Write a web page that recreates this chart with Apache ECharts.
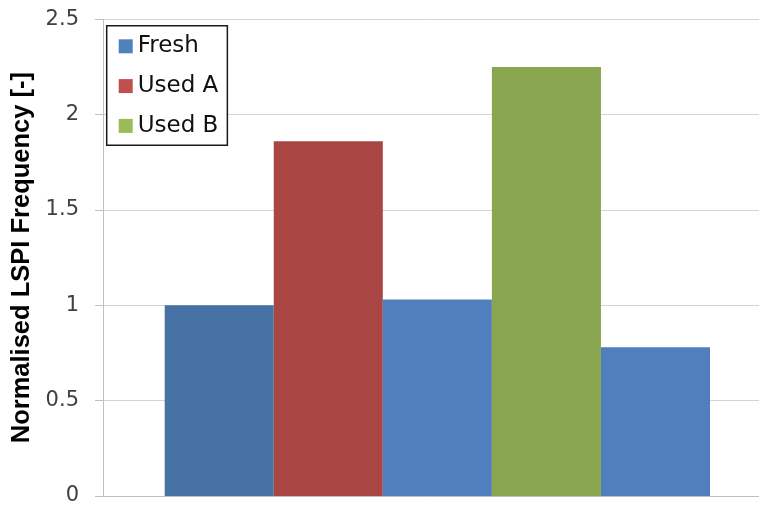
<!DOCTYPE html>
<html>
<head>
<meta charset="utf-8">
<title>Normalised LSPI Frequency</title>
<script src="https://cdn.jsdelivr.net/npm/echarts@6/dist/echarts.min.js"></script>
<style>
  html, body { margin: 0; padding: 0; background: #ffffff; }
  #chart { width: 759px; height: 506px; }
</style>
</head>
<body>
<div id="chart"></div>
<script>
// One category holding five adjacent bars (oil condition per test).
const categories = [''];
const seriesNames = ['Fresh', 'Used A', 'Fresh', 'Used B', 'Fresh'];
const values = [1.00, 1.86, 1.03, 2.25, 0.78];
const legendNames = ['Fresh', 'Used A', 'Used B'];

// Bar fills and legend swatch fills.
const barColors = ['#4672A5', '#A94644', '#4F80BD', '#8AA550', '#4F80BD'];
const swatchColors = { 'Fresh': '#4F81BD', 'Used A': '#C0504D', 'Used B': '#9BBB59' };

const chart = echarts.init(document.getElementById('chart'), null, { renderer: 'canvas' });

const series = seriesNames.map((name, i) => ({
  name: name,
  type: 'bar',
  data: [values[i]],
  barGap: '0%',
  barCategoryGap: '18.45%',
  itemStyle: { color: barColors[i] },
  emphasis: { disabled: true }
}));

chart.setOption({
  animation: false,
  backgroundColor: '#ffffff',
  // plot area runs slightly past the right edge of the canvas
  grid: { left: 103, width: 668.7, top: 19.3, bottom: 10, outerBoundsMode: 'none', containLabel: false },
  legend: {
    orient: 'vertical',
    left: 106.7,
    top: 25.7,
    padding: [8.6, 9, 7.3, 12],
    itemGap: 15.8,
    itemWidth: 14,
    itemHeight: 14,
    icon: 'rect',
    borderColor: '#1a1a1a',
    borderWidth: 1.5,
    backgroundColor: '#ffffff',
    selectedMode: false,
    textStyle: { fontFamily: 'DejaVu Sans', fontSize: 23, lineHeight: 24, color: '#111111' },
    data: legendNames.map(n => ({ name: n, itemStyle: { color: swatchColors[n] } }))
  },
  xAxis: {
    type: 'category',
    data: categories,
    axisLine: { show: true, lineStyle: { color: '#bfbfbf', width: 1 } },
    axisTick: { show: false },
    axisLabel: { show: false },
    splitLine: { show: false }
  },
  yAxis: {
    type: 'value',
    min: 0,
    max: 2.5,
    interval: 0.5,
    name: 'Normalised LSPI Frequency [-]',
    nameLocation: 'middle',
    nameRotate: 90,
    nameGap: 64,
    nameTextStyle: { fontFamily: 'Liberation Sans', fontWeight: 'bold', fontSize: 25.5, color: '#000000' },
    axisLine: { show: true, lineStyle: { color: '#bfbfbf', width: 1 } },
    axisTick: { show: true, length: 8, lineStyle: { color: '#bfbfbf', width: 1 } },
    axisLabel: { margin: 24, fontFamily: 'DejaVu Sans', fontSize: 21, color: '#404040' },
    splitLine: { show: true, lineStyle: { color: '#d4d4d4', width: 1 } }
  },
  series: series
});
</script>
</body>
</html>
